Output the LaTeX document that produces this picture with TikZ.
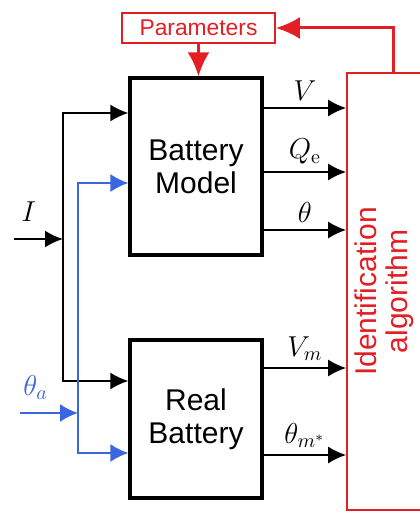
\documentclass[tikz,border=0pt]{standalone}
\usepackage[no-math]{fontspec}
\setmainfont{Liberation Sans}
\usepackage{amsmath}
\usetikzlibrary{arrows.meta, positioning, calc}
\definecolor{IdRed}{HTML}{E31E24}
\definecolor{InBlue}{HTML}{3A66E0}

\begin{document}
\begin{tikzpicture}[x=0.5pt, y=-0.5pt,
    every node/.style={font=\fontsize{14}{16}\selectfont},
    block/.style={rectangle, draw=black, fill=white, minimum width=66pt, align=center, line width=1.6pt, font=\fontsize{15}{16.5}\selectfont},
    redbox/.style={rectangle, draw=IdRed, fill=white, line width=0.8pt, text=IdRed},
    arrow/.style={-{Latex[length=9pt, width=8.5pt]}, draw=black, line width=1pt},
    barrow/.style={-{Latex[length=9pt, width=9pt]}, draw=InBlue, line width=1pt},
    rarrow/.style={-{Latex[length=12pt, width=11pt]}, draw=IdRed, line width=1.5pt}
]
\useasboundingbox (0,0) rectangle (419,512);

% Blocks
\node[block, minimum height=88.5pt] (model) at (196,166.5) {Battery\\Model};
\node[block, minimum height=79pt] (real) at (196,419) {Real\\Battery};

% Parameters and identification
\node[redbox, minimum width=76.5pt, minimum height=15pt, font=\fontsize{11.4}{13}\selectfont] (param) at (198.5,28) {Parameters};
\node[redbox, minimum width=39pt, minimum height=218.5pt] (id) at (386,291.5) {};
\node[rotate=90, align=center, text=IdRed, font=\fontsize{15}{15.5}\selectfont] (idtext) at ([xshift=-1pt]id.center) {Identification\\algorithm};

% Inputs
\coordinate (Iin) at (14,239);
\coordinate (Ijoin) at (63,239);
\coordinate (Tin) at (20,413);
\coordinate (Tjoin) at (78,413);
\coordinate (mI) at ([yshift=26.75pt]model.west);
\coordinate (mT) at ([yshift=-8.25pt]model.west);
\coordinate (rI) at ([yshift=19pt]real.west);
\coordinate (rT) at ([yshift=-17pt]real.west);

\draw[arrow] (Iin) -- node[above=5pt, pos=0.3] {$I$} (Ijoin);
\draw[arrow] (Ijoin) |- (mI);
\draw[arrow] (Ijoin) |- (rI);
\draw[barrow] (Tin) -- node[above=3pt, pos=0.27, text=InBlue] {$\theta_a$} (Tjoin);
\draw[barrow] (Tjoin) |- (mT);
\draw[barrow] (Tjoin) |- (rT);

% Outputs
\coordinate (mV) at ([yshift=29.25pt]model.east);
\coordinate (mQ) at ([yshift=-2.75pt]model.east);
\coordinate (mTh) at ([yshift=-31.75pt]model.east);
\coordinate (rV) at ([yshift=25.5pt]real.east);
\coordinate (rTh) at ([yshift=-18pt]real.east);

\draw[arrow] (mV) -- node[above] {$V$} (mV -| id.west);
\draw[arrow] (mQ) -- node[above] {$Q_\mathrm{e}$} (mQ -| id.west);
\draw[arrow] (mTh) -- node[above] {$\theta$} (mTh -| id.west);
\draw[arrow] (rV) -- node[above] {$V_m$} (rV -| id.west);
\draw[arrow] (rTh) -- node[above] {$\theta_{m^*}$} (rTh -| id.west);

% Parameter update
\draw[rarrow] (param.south) -- (param.south |- model.north);
\draw[rarrow] ([xshift=3.5pt]id.north) |- (param.east);

\end{tikzpicture}
\end{document}
